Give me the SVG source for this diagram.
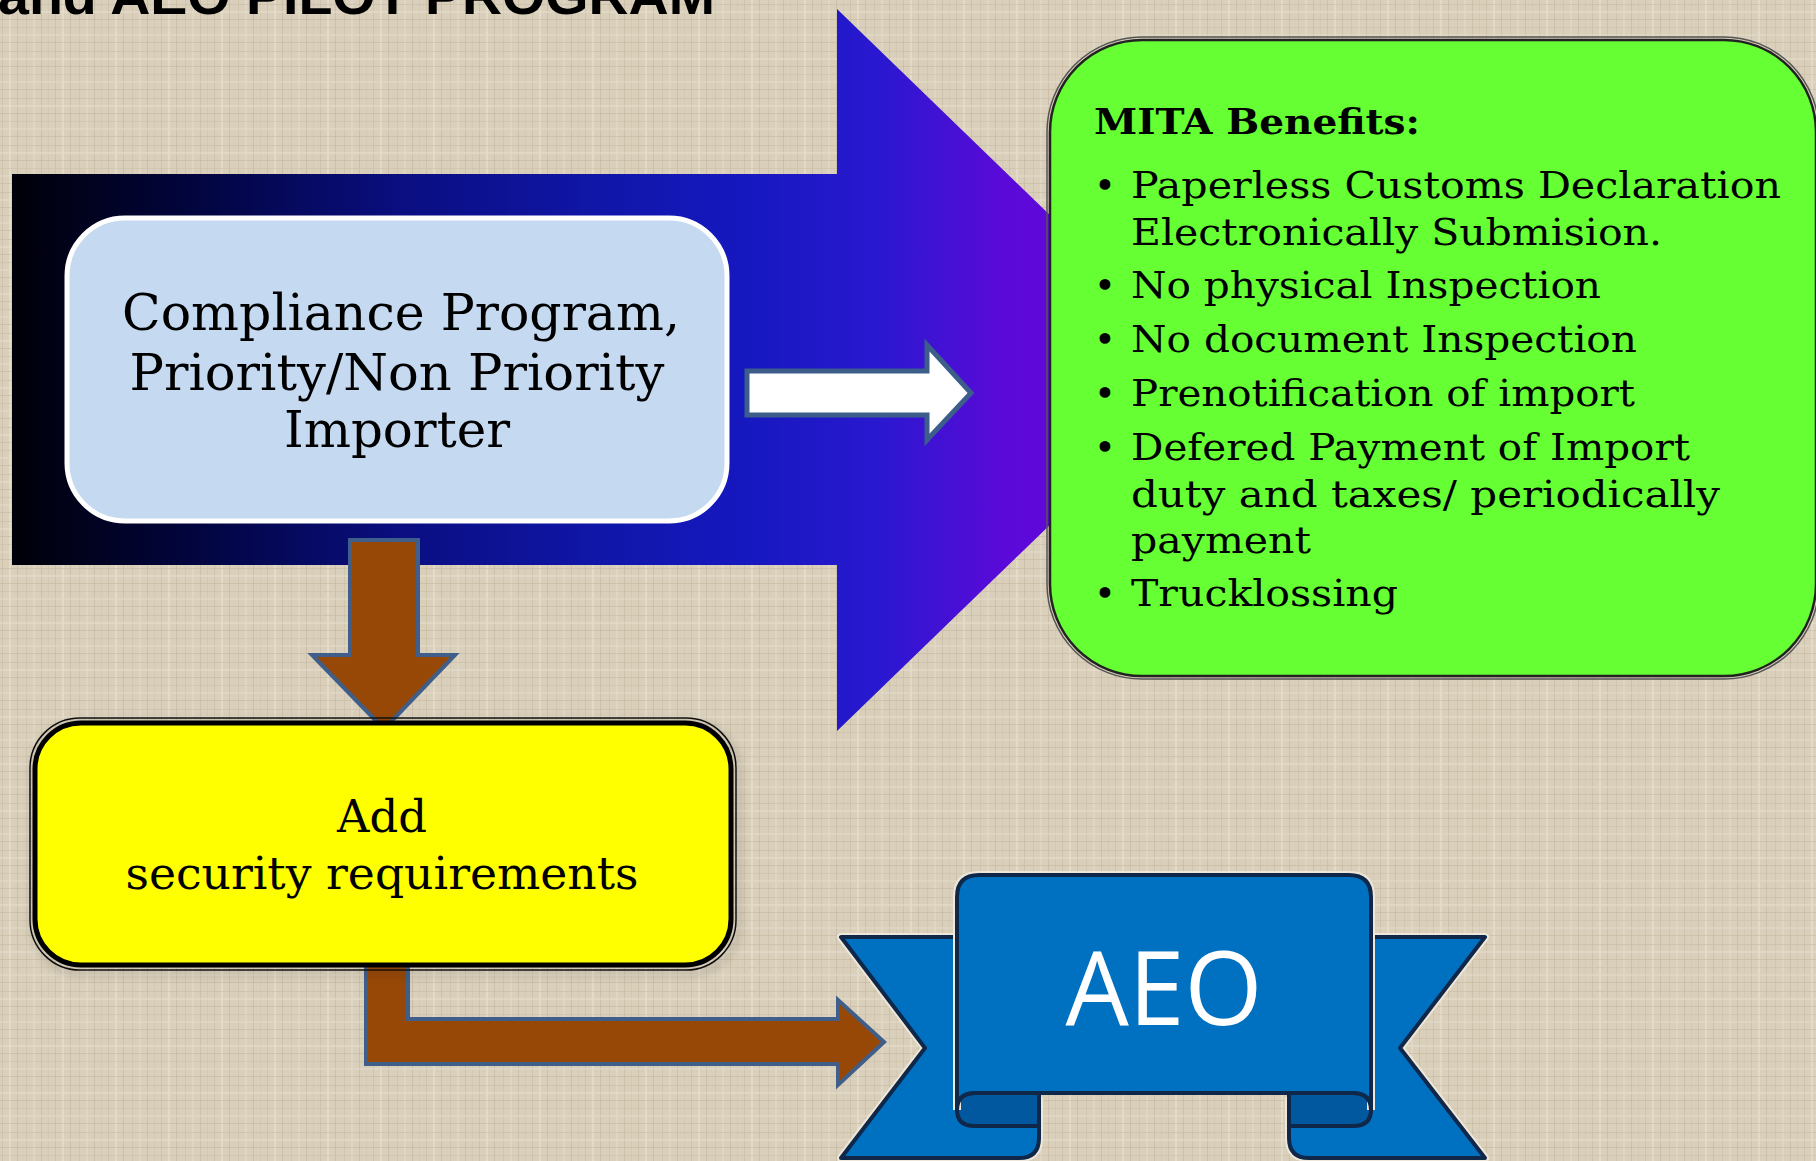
<svg xmlns="http://www.w3.org/2000/svg" width="1816" height="1161" viewBox="0 0 1816 1161">
<defs>
<pattern id="linen" width="53" height="47" patternUnits="userSpaceOnUse">
<rect width="53" height="47" fill="#d9cfba"/>
<rect x="2" y="0" width="1" height="47" fill="#c4b89e" opacity="0.55"/>
<rect x="9" y="0" width="2" height="47" fill="#e9e2d2" opacity="0.6"/>
<rect x="17" y="0" width="1" height="47" fill="#bcae94" opacity="0.45"/>
<rect x="26" y="0" width="1" height="47" fill="#c8bca3" opacity="0.5"/>
<rect x="33" y="0" width="2" height="47" fill="#e6dfce" opacity="0.5"/>
<rect x="41" y="0" width="1" height="47" fill="#b9ab90" opacity="0.4"/>
<rect x="48" y="0" width="1" height="47" fill="#cfc4ac" opacity="0.5"/>
<rect x="0" y="4" width="53" height="1" fill="#c4b79d" opacity="0.5"/>
<rect x="0" y="11" width="53" height="2" fill="#e7e0cf" opacity="0.5"/>
<rect x="0" y="19" width="53" height="1" fill="#bbad92" opacity="0.4"/>
<rect x="0" y="27" width="53" height="1" fill="#c9bda4" opacity="0.5"/>
<rect x="0" y="34" width="53" height="2" fill="#e4dccb" opacity="0.5"/>
<rect x="0" y="42" width="53" height="1" fill="#bfb197" opacity="0.45"/>
</pattern>
<linearGradient id="bigGrad" gradientUnits="userSpaceOnUse" x1="12" y1="0" x2="1210" y2="0">
<stop offset="0" stop-color="#000008"/>
<stop offset="0.157" stop-color="#020540"/>
<stop offset="0.324" stop-color="#0a0e80"/>
<stop offset="0.49" stop-color="#1016a8"/>
<stop offset="0.616" stop-color="#1618c0"/>
<stop offset="0.725" stop-color="#2a18d0"/>
<stop offset="0.825" stop-color="#5a0ad8"/>
<stop offset="1" stop-color="#7000e0"/>
</linearGradient>
<filter id="shadow" x="-10%" y="-10%" width="130%" height="130%">
<feDropShadow dx="3" dy="4" stdDeviation="4" flood-color="#000" flood-opacity="0.45"/>
</filter>
<style>
.serif { font-family: "DejaVu Serif", "Liberation Serif", serif; fill: #000; }
.brown { fill: #974806; stroke: #3f5f8a; stroke-width: 4; stroke-linejoin: miter; }
.rib { fill: #0070c0; stroke: #0f2748; stroke-width: 4; stroke-linejoin: round; }
.roll { fill: #02589e; stroke: #0f2748; stroke-width: 4; stroke-linejoin: round; }
.ribHalo { fill: none; stroke: #efe8da; stroke-width: 8; stroke-linejoin: round; }
</style>
</defs>

<rect width="1816" height="1161" fill="url(#linen)"/>

<text x="-2" y="14" font-family="Liberation Sans, Arial, sans-serif" font-weight="bold" font-size="52" textLength="717" lengthAdjust="spacingAndGlyphs" fill="#000">and AEO PILOT PROGRAM</text>

<g id="big-arrow">
<polygon points="12,174 837,174 837,9 1210,370 837,731 837,565 12,565" fill="url(#bigGrad)"/>
</g>

<g id="connectors">
<polygon id="arrow-white" points="747,371 927,371 927,345 971,393 927,440 927,415 747,415" fill="#ffffff" stroke="#3d5d8a" stroke-width="5"/>
<polygon id="arrow-down" class="brown" points="350,540 418,540 418,655 455,655 384,729 312,655 350,655"/>
<polygon id="arrow-elbow" class="brown" points="366,940 408,940 408,1019 838,1019 838,1000 884,1042 838,1085 838,1064 366,1064"/>
</g>

<g id="node-compliance">
<rect x="67" y="218" width="660" height="303" rx="58" ry="58" fill="#c5d9f1" stroke="#ffffff" stroke-width="5"/>
<text class="serif" font-size="50" text-anchor="middle" x="401" y="330" textLength="558" lengthAdjust="spacingAndGlyphs">Compliance Program,</text>
<text class="serif" font-size="50" text-anchor="middle" x="397" y="390" textLength="535" lengthAdjust="spacingAndGlyphs">Priority/Non Priority</text>
<text class="serif" font-size="50" text-anchor="middle" x="397" y="447" textLength="226" lengthAdjust="spacingAndGlyphs">Importer</text>
</g>

<g id="node-security">
<rect x="30" y="718" width="706" height="252" rx="50" ry="50" fill="none" stroke="#111" stroke-width="1.5" filter="url(#shadow)"/>
<rect x="35" y="723" width="696" height="242" rx="46" ry="46" fill="#ffff00" stroke="#000" stroke-width="5"/>
<text class="serif" font-size="44" text-anchor="middle" x="382" y="832" textLength="90" lengthAdjust="spacingAndGlyphs">Add</text>
<text class="serif" font-size="44" text-anchor="middle" x="382" y="889" textLength="513" lengthAdjust="spacingAndGlyphs">security requirements</text>
</g>

<g id="node-mita">
<rect x="1047" y="37" width="772" height="642" rx="95" ry="95" fill="none" stroke="#555" stroke-width="1.5"/>
<rect x="1050" y="40" width="766" height="636" rx="92" ry="92" fill="#66ff33" stroke="#222" stroke-width="2.5"/>
<text class="serif" font-size="36" font-weight="bold" x="1094" y="134" textLength="326" lengthAdjust="spacingAndGlyphs">MITA Benefits:</text>
<g class="serif" font-size="37">
<text x="1094" y="198">•</text>
<text x="1131" y="198" textLength="650" lengthAdjust="spacingAndGlyphs">Paperless Customs Declaration</text>
<text x="1131" y="245" textLength="531" lengthAdjust="spacingAndGlyphs">Electronically Submision.</text>
<text x="1094" y="298">•</text>
<text x="1131" y="298" textLength="470" lengthAdjust="spacingAndGlyphs">No physical Inspection</text>
<text x="1094" y="352">•</text>
<text x="1131" y="352" textLength="506" lengthAdjust="spacingAndGlyphs">No document Inspection</text>
<text x="1094" y="406">•</text>
<text x="1131" y="406" textLength="504" lengthAdjust="spacingAndGlyphs">Prenotification of import</text>
<text x="1094" y="460">•</text>
<text x="1131" y="460" textLength="559" lengthAdjust="spacingAndGlyphs">Defered Payment of Import</text>
<text x="1131" y="507" textLength="589" lengthAdjust="spacingAndGlyphs">duty and taxes/ periodically</text>
<text x="1131" y="553" textLength="180" lengthAdjust="spacingAndGlyphs">payment</text>
<text x="1094" y="606">•</text>
<text x="1131" y="606" textLength="267" lengthAdjust="spacingAndGlyphs">Trucklossing</text>
</g>
</g>

<g id="node-aeo">
<path class="ribHalo" d="M841,937 L962,937 L962,1100 L1039,1100 L1039,1138 Q1039,1158 1019,1158 L841,1158 L925,1048 Z"/>
<path class="ribHalo" d="M1485,937 L1365,937 L1365,1100 L1289,1100 L1289,1138 Q1289,1158 1309,1158 L1485,1158 L1400,1048 Z"/>
<path class="rib" d="M841,937 L962,937 L962,1100 L1039,1100 L1039,1138 Q1039,1158 1019,1158 L841,1158 L925,1048 Z"/>
<path class="rib" d="M1485,937 L1365,937 L1365,1100 L1289,1100 L1289,1138 Q1289,1158 1309,1158 L1485,1158 L1400,1048 Z"/>
<path class="roll" d="M1039,1093 L1039,1126 L975,1126 Q957,1126 957,1110 Q957,1093 975,1093 Z"/>
<path class="roll" d="M1289,1093 L1289,1126 L1353,1126 Q1371,1126 1371,1110 Q1371,1093 1353,1093 Z"/>
<path class="ribHalo" stroke-width="7" d="M957,1110 L957,897 Q957,875 979,875 L1349,875 Q1371,875 1371,897 L1371,1110"/>
<path class="rib" d="M957,1110 L957,897 Q957,875 979,875 L1349,875 Q1371,875 1371,897 L1371,1110 Q1371,1093 1353,1093 L975,1093 Q957,1093 957,1110 Z"/>
<text x="1164" y="1025" text-anchor="middle" font-family="Open Sans, Liberation Sans, sans-serif" font-size="102" fill="#ffffff" textLength="197" lengthAdjust="spacingAndGlyphs">AEO</text>
</g>
</svg>
